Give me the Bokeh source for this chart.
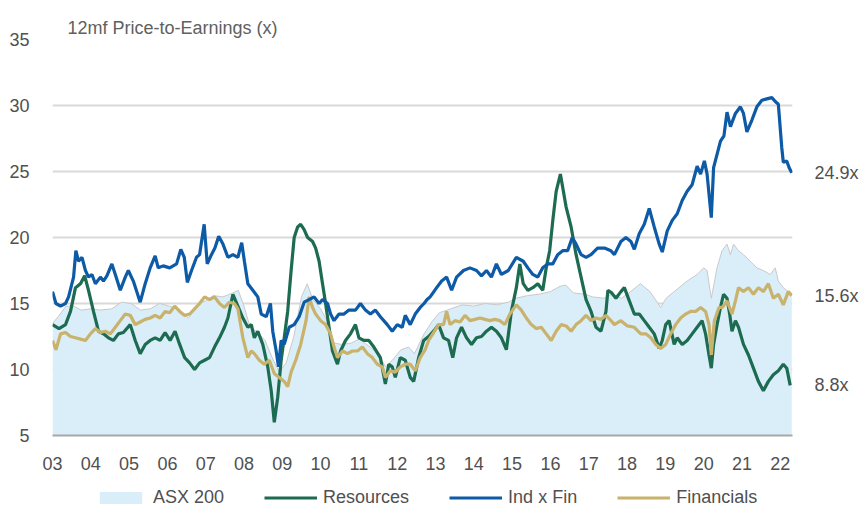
from bokeh.plotting import figure
from bokeh.models import (Legend, LegendItem, FixedTicker, Range1d, LinearAxis)
from bokeh.layouts import column
from bokeh.embed import file_html
from bokeh.resources import INLINE

# ---------------- data ----------------
ind_dates = [2003.00, 2003.09, 2003.21, 2003.34, 2003.42, 2003.55, 2003.61, 2003.68, 2003.77, 2003.86, 2003.94,
             2004.03, 2004.12, 2004.25, 2004.33, 2004.42, 2004.55, 2004.64, 2004.77, 2004.90, 2004.98,
             2005.11, 2005.29, 2005.42, 2005.55, 2005.68, 2005.76, 2005.89, 2006.06, 2006.24, 2006.35,
             2006.44, 2006.52, 2006.63, 2006.76, 2006.84, 2006.96, 2007.04, 2007.15, 2007.24, 2007.34,
             2007.45, 2007.58, 2007.71, 2007.84, 2007.94, 2008.01, 2008.10, 2008.23, 2008.36, 2008.45,
             2008.58, 2008.69, 2008.75, 2008.84, 2008.90, 2008.97, 2009.05, 2009.18, 2009.31, 2009.44,
             2009.57, 2009.70, 2009.83, 2009.96, 2010.05, 2010.18, 2010.26, 2010.35, 2010.48, 2010.61,
             2010.74, 2010.91, 2011.04, 2011.17, 2011.30, 2011.43, 2011.56, 2011.74, 2011.87, 2012.00,
             2012.13, 2012.21, 2012.34, 2012.47, 2012.60, 2012.70, 2012.78, 2012.86, 2013.03, 2013.16,
             2013.29, 2013.42, 2013.55, 2013.73, 2013.90, 2014.07, 2014.20, 2014.33, 2014.46, 2014.59,
             2014.72, 2014.90, 2015.11, 2015.29, 2015.41, 2015.54, 2015.67, 2015.80, 2015.93, 2016.06,
             2016.19, 2016.32, 2016.45, 2016.57, 2016.67, 2016.80, 2016.93, 2017.06, 2017.23, 2017.41,
             2017.58, 2017.67, 2017.84, 2017.97, 2018.10, 2018.19, 2018.32, 2018.45, 2018.58, 2018.71,
             2018.84, 2018.92, 2019.05, 2019.18, 2019.31, 2019.44, 2019.57, 2019.70, 2019.83, 2019.92,
             2020.02, 2020.09, 2020.20, 2020.26, 2020.35, 2020.44, 2020.53, 2020.61, 2020.70, 2020.83,
             2020.96, 2021.04, 2021.13, 2021.26, 2021.39, 2021.52, 2021.65, 2021.78, 2021.87, 2021.95,
             2022.04, 2022.08, 2022.17, 2022.23, 2022.30]
ind_pe = [15.9, 15.0, 14.8, 15.0, 15.5, 17.0, 19.0, 18.2, 18.5, 17.5, 17.0,
          17.2, 16.5, 17.0, 16.7, 17.1, 18.0, 17.2, 16.0, 17.0, 17.5,
          16.7, 15.1, 16.5, 17.7, 18.6, 17.7, 17.85, 17.7, 18.0, 19.1,
          18.5, 16.6, 17.5, 18.5, 18.7, 21.0, 18.0, 18.7, 19.2, 20.1,
          19.5, 18.5, 18.7, 18.5, 19.6, 18.2, 16.5, 16.0, 15.5, 14.2,
          14.0, 15.0, 12.9, 11.4, 10.2, 12.2, 11.9, 13.2, 13.4, 14.0,
          15.1, 15.3, 15.5, 15.0, 15.3, 15.0, 14.2, 13.7, 14.2, 14.2,
          14.5, 14.5, 15.0, 14.5, 14.2, 14.5, 14.0, 13.4, 12.9, 13.4,
          13.2, 14.1, 13.4, 14.2, 14.7, 15.0, 15.3, 15.5, 16.2, 16.7,
          17.0, 16.0, 17.0, 17.5, 17.7, 17.5, 17.1, 17.5, 17.0, 18.0,
          17.2, 17.5, 18.5, 18.2, 17.7, 17.2, 17.0, 17.7, 18.0, 18.0,
          18.7, 19.0, 19.0, 20.0, 19.5, 18.7, 18.5, 18.7, 19.2, 19.2,
          19.0, 18.7, 19.7, 20.0, 19.7, 19.1, 20.3, 21.0, 22.2, 20.8,
          19.5, 18.9, 20.5, 21.3, 21.8, 22.8, 23.5, 24.0, 25.4, 24.8,
          25.8, 24.8, 21.5, 25.3, 26.3, 27.3, 27.7, 29.5, 28.4, 29.4,
          29.9, 29.4, 28.0, 28.9, 29.9, 30.4, 30.5, 30.6, 30.3, 30.1,
          26.8, 25.7, 25.8, 25.3, 24.9]

res_dates = [2003.00, 2003.17, 2003.34, 2003.47, 2003.60, 2003.73, 2003.84, 2003.94, 2004.07, 2004.20,
             2004.33, 2004.46, 2004.59, 2004.72, 2004.85, 2005.03, 2005.16, 2005.29, 2005.42, 2005.55,
             2005.68, 2005.81, 2005.94, 2006.07, 2006.20, 2006.32, 2006.45, 2006.58, 2006.71, 2006.84,
             2006.97, 2007.10, 2007.23, 2007.36, 2007.49, 2007.58, 2007.71, 2007.84, 2007.97, 2008.10,
             2008.19, 2008.27, 2008.36, 2008.49, 2008.62, 2008.71, 2008.79, 2008.88, 2008.97, 2009.05,
             2009.14, 2009.23, 2009.31, 2009.40, 2009.48, 2009.57, 2009.66, 2009.79, 2009.87, 2009.96,
             2010.05, 2010.13, 2010.22, 2010.31, 2010.44, 2010.52, 2010.65, 2010.78, 2010.91, 2011.00,
             2011.13, 2011.26, 2011.39, 2011.56, 2011.69, 2011.78, 2011.87, 2011.95, 2012.08, 2012.21,
             2012.34, 2012.43, 2012.56, 2012.69, 2012.82, 2012.95, 2013.08, 2013.21, 2013.34, 2013.45,
             2013.55, 2013.68, 2013.81, 2013.94, 2014.07, 2014.20, 2014.33, 2014.46, 2014.59, 2014.72,
             2014.85, 2014.98, 2015.11, 2015.20, 2015.29, 2015.41, 2015.54, 2015.67, 2015.80, 2015.89,
             2015.98, 2016.07, 2016.15, 2016.26, 2016.32, 2016.41, 2016.54, 2016.67, 2016.80, 2016.93,
             2017.06, 2017.19, 2017.32, 2017.45, 2017.50, 2017.60, 2017.71, 2017.84, 2017.93, 2018.06,
             2018.19, 2018.32, 2018.45, 2018.58, 2018.71, 2018.84, 2018.92, 2019.01, 2019.10, 2019.23,
             2019.31, 2019.44, 2019.57, 2019.70, 2019.83, 2019.96, 2020.05, 2020.14, 2020.20, 2020.26,
             2020.35, 2020.44, 2020.52, 2020.61, 2020.68, 2020.74, 2020.83, 2020.91, 2021.04, 2021.17,
             2021.30, 2021.43, 2021.56, 2021.69, 2021.82, 2021.95, 2022.08, 2022.17, 2022.26]
res_pe = [13.4, 13.1, 13.4, 14.4, 16.2, 16.5, 17.1, 16.0, 14.4, 12.9,
          12.7, 12.4, 12.2, 12.7, 12.8, 13.4, 12.2, 11.2, 11.9, 12.2,
          12.4, 12.2, 12.8, 12.2, 12.9, 11.9, 10.9, 10.5, 10.0, 10.5,
          10.7, 10.9, 11.7, 12.4, 13.2, 13.9, 15.7, 14.8, 13.9, 13.2,
          13.4, 12.4, 12.9, 11.9, 10.2, 8.4, 6.0, 7.9, 10.7, 12.4,
          14.4, 17.5, 20.0, 20.8, 21.0, 20.6, 20.0, 19.7, 19.2, 18.2,
          16.5, 15.0, 13.2, 11.4, 10.4, 11.4, 12.2, 12.7, 13.4, 12.4,
          12.2, 12.2, 11.7, 10.9, 8.9, 10.4, 10.2, 9.4, 10.9, 10.7,
          9.4, 9.1, 10.9, 12.2, 12.5, 12.9, 13.4, 12.4, 12.2, 10.9,
          12.4, 13.2, 12.4, 11.9, 12.4, 12.5, 12.9, 13.2, 12.9, 12.4,
          11.5, 14.4, 16.2, 18.0, 16.5, 16.0, 16.2, 16.5, 16.0, 17.7,
          19.0, 21.5, 23.5, 24.8, 23.8, 22.3, 20.8, 18.7, 17.0, 15.3,
          14.4, 13.2, 12.9, 14.4, 16.0, 15.8, 15.4, 15.9, 16.2, 15.2,
          14.2, 14.2, 13.7, 13.2, 12.7, 11.6, 12.2, 13.4, 13.7, 11.9,
          12.4, 11.9, 12.2, 12.7, 13.2, 13.7, 12.7, 11.1, 10.1, 11.9,
          13.4, 14.7, 15.7, 15.4, 14.2, 12.9, 13.7, 13.2, 11.9, 11.1,
          10.1, 9.1, 8.4, 9.1, 9.6, 9.9, 10.4, 10.1, 8.8]

fin_dates = [2003.00, 2003.09, 2003.21, 2003.34, 2003.47, 2003.60, 2003.73, 2003.86, 2003.99, 2004.12,
             2004.25, 2004.38, 2004.51, 2004.64, 2004.77, 2004.90, 2005.03, 2005.16, 2005.29, 2005.42,
             2005.55, 2005.68, 2005.81, 2005.94, 2006.06, 2006.19, 2006.32, 2006.45, 2006.58, 2006.71,
             2006.84, 2006.97, 2007.10, 2007.23, 2007.36, 2007.49, 2007.62, 2007.75, 2007.84, 2007.97,
             2008.10, 2008.19, 2008.27, 2008.40, 2008.53, 2008.66, 2008.79, 2008.92, 2009.05, 2009.14,
             2009.23, 2009.35, 2009.48, 2009.62, 2009.70, 2009.79, 2009.87, 2010.00, 2010.13, 2010.26,
             2010.35, 2010.44, 2010.57, 2010.70, 2010.83, 2010.96, 2011.09, 2011.22, 2011.35, 2011.48,
             2011.61, 2011.69, 2011.82, 2011.95, 2012.08, 2012.21, 2012.34, 2012.47, 2012.60, 2012.73,
             2012.82, 2012.95, 2013.08, 2013.21, 2013.29, 2013.38, 2013.51, 2013.64, 2013.77, 2013.90,
             2014.03, 2014.16, 2014.29, 2014.42, 2014.55, 2014.68, 2014.81, 2014.94, 2015.11, 2015.24,
             2015.37, 2015.50, 2015.63, 2015.76, 2015.89, 2016.02, 2016.15, 2016.28, 2016.41, 2016.54,
             2016.67, 2016.80, 2016.93, 2017.06, 2017.19, 2017.32, 2017.45, 2017.58, 2017.67, 2017.84,
             2018.01, 2018.19, 2018.36, 2018.49, 2018.62, 2018.75, 2018.88, 2019.01, 2019.14, 2019.27,
             2019.40, 2019.53, 2019.66, 2019.79, 2019.92, 2020.05, 2020.14, 2020.20, 2020.28, 2020.40,
             2020.49, 2020.61, 2020.74, 2020.83, 2020.91, 2021.04, 2021.17, 2021.30, 2021.43, 2021.56,
             2021.69, 2021.82, 2021.95, 2022.08, 2022.21, 2022.30]
fin_pe = [12.2, 11.5, 12.7, 12.8, 12.5, 12.4, 12.3, 12.2, 12.7, 13.1,
          12.8, 12.9, 12.7, 13.2, 13.7, 14.2, 14.1, 13.4, 13.6, 13.8,
          13.9, 14.1, 13.9, 14.4, 14.3, 14.8, 14.4, 14.1, 14.2, 14.6,
          15.0, 15.5, 15.3, 15.5, 15.0, 14.7, 15.1, 15.0, 14.6, 12.4,
          10.9, 11.4, 11.2, 10.7, 10.4, 10.7, 9.7, 9.4, 9.1, 8.7,
          9.8, 10.7, 11.9, 13.7, 15.5, 14.7, 14.2, 13.7, 13.4, 12.7,
          11.7, 10.9, 11.4, 11.2, 11.4, 11.4, 11.7, 11.2, 10.9, 10.4,
          10.2, 9.4, 9.9, 9.8, 10.2, 10.4, 10.4, 9.9, 10.9, 11.5,
          12.2, 12.8, 13.4, 13.4, 14.4, 13.4, 13.7, 13.6, 14.1, 13.7,
          13.8, 13.9, 13.8, 13.7, 13.8, 13.7, 13.4, 14.2, 14.9, 14.5,
          13.9, 13.4, 13.1, 13.2, 12.7, 12.2, 12.9, 13.4, 13.3, 12.9,
          13.4, 13.7, 14.1, 13.7, 13.9, 13.8, 14.1, 13.7, 13.4, 13.7,
          13.3, 13.2, 12.7, 12.7, 12.4, 11.9, 11.6, 11.9, 12.7, 13.4,
          13.9, 14.2, 14.4, 14.4, 14.7, 14.4, 13.4, 11.1, 13.7, 14.7,
          14.7, 15.2, 14.2, 15.2, 16.2, 15.9, 16.2, 15.7, 16.2, 15.9,
          16.5, 15.4, 15.7, 14.9, 15.9, 15.6]

asx_dates = [2003.00, 2003.15, 2003.35, 2003.55, 2003.75, 2004.00, 2004.25, 2004.55, 2004.80, 2005.05,
             2005.30, 2005.55, 2005.80, 2006.05, 2006.30, 2006.55, 2006.80, 2007.00, 2007.20, 2007.45,
             2007.70, 2007.85, 2008.00, 2008.15, 2008.35, 2008.55, 2008.75, 2008.92, 2009.10, 2009.30,
             2009.50, 2009.65, 2009.80, 2010.00, 2010.20, 2010.35, 2010.55, 2010.80, 2011.00, 2011.25,
             2011.50, 2011.70, 2011.90, 2012.10, 2012.30, 2012.45, 2012.70, 2012.90, 2013.10, 2013.40,
             2013.70, 2014.00, 2014.30, 2014.60, 2014.90, 2015.10, 2015.40, 2015.70, 2016.00, 2016.25,
             2016.40, 2016.60, 2016.90, 2017.10, 2017.40, 2017.60, 2017.85, 2018.05, 2018.35, 2018.60,
             2018.88, 2019.02, 2019.23, 2019.57, 2019.83, 2020.00, 2020.09, 2020.20, 2020.35, 2020.48,
             2020.61, 2020.70, 2020.78, 2020.91, 2021.04, 2021.22, 2021.39, 2021.56, 2021.74, 2021.87,
             2021.95, 2022.08, 2022.30]
asx_pe = [13.5, 14.0, 14.8, 14.8, 14.5, 14.6, 14.5, 14.6, 15.1, 15.0,
          14.5, 14.6, 15.0, 14.8, 14.6, 13.9, 15.0, 15.2, 15.6, 15.5,
          15.8, 16.0, 14.8, 13.3, 12.8, 12.2, 10.8, 9.8, 10.5, 12.5,
          15.5, 16.5, 15.3, 14.6, 13.5, 12.0, 11.9, 12.0, 12.3, 11.8,
          11.2, 10.2, 10.8, 11.5, 11.7, 11.2, 12.7, 13.6, 14.3, 14.6,
          14.9, 14.8, 15.0, 14.9, 15.1, 15.4, 15.6, 15.7, 15.9, 16.3,
          16.4, 15.8, 15.7, 15.5, 15.4, 15.7, 15.4, 15.8, 16.5, 15.9,
          14.7, 15.4, 15.9, 16.7, 17.2, 17.7, 17.5, 15.4, 17.7, 19.0,
          19.5, 18.7, 19.5, 19.0, 18.7, 18.2, 17.7, 17.5, 17.2, 17.7,
          16.7, 16.2, 15.7]

years = list(range(2003, 2023))
year_labels = ["03", "04", "05", "06", "07", "08", "09", "10", "11", "12",
               "13", "14", "15", "16", "17", "18", "19", "20", "21", "22"]
y_ticks = [5, 10, 15, 20, 25, 30, 35]
end_labels = ["24.9x", "15.6x", "8.8x"]
end_values = [24.9, 15.6, 8.8]
title_text = "12mf Price-to-Earnings (x)"
series_names = ["ASX 200", "Resources", "Ind x Fin", "Financials"]

# ---------------- styling ----------------
FONT = "Liberation Sans"
FS = "18px"
C_BLUE = "#0d5aa7"
C_GREEN = "#1d6b50"
C_GOLD = "#c8b26c"
C_AREA = "#d9eef8"
C_TXT = "#505050"
LW = 3.2


def draw_series(fig):
    a = fig.varea(x=asx_dates, y1=[5] * len(asx_dates), y2=asx_pe, fill_color=C_AREA)
    fig.line(x=asx_dates, y=asx_pe, line_color="#c9c9c9", line_width=1)
    r = fig.line(x=res_dates, y=res_pe, line_color=C_GREEN, line_width=LW)
    f = fig.line(x=fin_dates, y=fin_pe, line_color=C_GOLD, line_width=LW)
    i = fig.line(x=ind_dates, y=ind_pe, line_color=C_BLUE, line_width=LW)
    return a, r, i, f


p = figure(width=861, height=477, output_backend="svg", toolbar_location=None,
           x_range=Range1d(2003.0, 2022.32), y_range=Range1d(5, 35),
           min_border_left=52, min_border_right=64, min_border_top=39, min_border_bottom=42)
p.outline_line_color = None
p.background_fill_color = "white"
p.border_fill_color = "white"

# title
p.title.text = title_text
p.title.align = "left"
p.title.offset = 15
p.title.standoff = 4
p.title.text_font = FONT
p.title.text_font_size = FS
p.title.text_font_style = "normal"
p.title.text_color = "#606060"

draw_series(p)

# axes
p.xaxis.ticker = FixedTicker(ticks=years)
p.xaxis.major_label_overrides = {y: l for y, l in zip(years, year_labels)}
p.xaxis.major_tick_line_color = None
p.xaxis.minor_tick_line_color = None
p.xaxis.axis_line_color = "#a8a8a8"
p.xaxis.axis_line_width = 2
p.xaxis.major_label_standoff = 15
p.xaxis.major_label_text_font = FONT
p.xaxis.major_label_text_font_size = FS
p.xaxis.major_label_text_color = C_TXT

p.yaxis.ticker = FixedTicker(ticks=y_ticks)
p.yaxis.major_tick_line_color = None
p.yaxis.minor_tick_line_color = None
p.yaxis.axis_line_color = None
p.yaxis.major_label_standoff = 17
p.yaxis.major_label_text_font = FONT
p.yaxis.major_label_text_font_size = FS
p.yaxis.major_label_text_color = C_TXT

# right axis carrying the end-value labels
raxis = LinearAxis(ticker=FixedTicker(ticks=end_values),
                   major_label_overrides={v: l for v, l in zip(end_values, end_labels)})
raxis.major_tick_line_color = None
raxis.minor_tick_line_color = None
raxis.axis_line_color = None
raxis.major_label_standoff = 16
raxis.major_label_text_font = FONT
raxis.major_label_text_font_size = FS
raxis.major_label_text_color = C_TXT
p.add_layout(raxis, "right")

p.xgrid.grid_line_color = None
p.ygrid.grid_line_color = "#d9d9d9"
p.ygrid.grid_line_width = 2

# ---------------- legend strip (separate small figure; series kept out of view) ----------------
lf = figure(width=861, height=35, output_backend="svg", toolbar_location=None,
            x_axis_type=None, y_axis_type=None, x_range=Range1d(0, 1), y_range=Range1d(0, 1),
            min_border_left=52, min_border_right=64, min_border_top=0, min_border_bottom=0)
lf.outline_line_color = None
lf.grid.grid_line_color = None
lg_area, lg_res, lg_ind, lg_fin = draw_series(lf)

legend = Legend(items=[LegendItem(label=series_names[0], renderers=[lg_area]),
                       LegendItem(label=series_names[1], renderers=[lg_res]),
                       LegendItem(label=series_names[2], renderers=[lg_ind]),
                       LegendItem(label=series_names[3], renderers=[lg_fin])],
                location=(42, 4), orientation="horizontal",
                background_fill_alpha=0, border_line_color=None,
                padding=0, margin=0, spacing=40, glyph_width=53, glyph_height=15,
                label_standoff=6, label_text_font=FONT, label_text_font_size=FS,
                label_text_color=C_TXT)
lf.add_layout(legend, "center")

layout = column(p, lf, spacing=0)
open("out.html", "w").write(file_html(layout, INLINE))
